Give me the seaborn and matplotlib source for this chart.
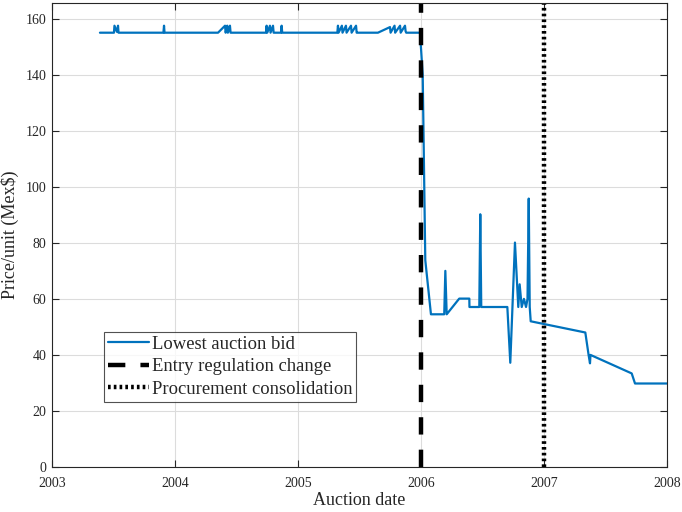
import matplotlib
matplotlib.use("Agg")
import matplotlib.pyplot as plt
import seaborn as sns
import pandas as pd

# Auction dates (decimal years) and lowest bids (Mex$)
dates = [
    2003.390, 2003.504, 2003.508, 2003.528, 2003.537, 2003.541,
    2003.906, 2003.911, 2003.915,
    2004.350, 2004.407, 2004.412, 2004.425, 2004.430, 2004.447, 2004.452,
    2004.740, 2004.745, 2004.750, 2004.772, 2004.777, 2004.797, 2004.802, 2004.862, 2004.867, 2004.872,
    2005.320, 2005.325, 2005.330, 2005.357, 2005.362, 2005.390, 2005.395, 2005.431, 2005.436, 2005.472, 2005.477, 2005.482,
    2005.650, 2005.748, 2005.753, 2005.785, 2005.790, 2005.830, 2005.835, 2005.870, 2005.875, 2005.880, 2005.992,
    2006.014, 2006.035, 2006.081, 2006.189, 2006.198, 2006.209, 2006.311, 2006.393, 2006.394,
    2006.474, 2006.482, 2006.490, 2006.702, 2006.726, 2006.764, 2006.791, 2006.802, 2006.819,
    2006.837, 2006.854, 2006.866, 2006.876, 2006.884, 2006.892,
    2007.336, 2007.363, 2007.374, 2007.378, 2007.713, 2007.740, 2008.000,
]
prices = [
    155.0, 155.0, 157.5, 155.3, 157.5, 155.0,
    155.0, 157.5, 155.0,
    155.0, 157.5, 155.0, 157.5, 155.0, 157.5, 155.0,
    155.0, 157.5, 155.0, 157.5, 155.0, 157.5, 155.0, 155.0, 157.5, 155.0,
    155.0, 157.5, 155.0, 157.5, 155.0, 157.5, 155.0, 157.5, 155.0, 157.5, 155.0, 155.0,
    155.0, 157.0, 155.0, 157.5, 155.0, 157.5, 155.0, 157.5, 155.5, 155.0, 155.0,
    140.0, 73.8, 54.5, 54.5, 70.0, 54.5, 60.1, 60.1, 57.1,
    57.1, 90.2, 57.1, 57.1, 37.2, 80.1, 57.1, 65.2, 57.1,
    60.0, 57.1, 60.0, 95.8, 57.1, 52.0,
    48.0, 39.9, 37.0, 40.0, 33.4, 29.8, 29.8,
]
# Event dates
entry_change = 2006.0
consolidation = 2007.0

x_ticks = [2003, 2004, 2005, 2006, 2007, 2008]
y_ticks = [0, 20, 40, 60, 80, 100, 120, 140, 160]

sns.set_theme(style="whitegrid")
plt.rcParams['font.family'] = ['Liberation Serif', 'DejaVu Serif']

df = pd.DataFrame({"date": dates, "price": prices})

fig = plt.figure(figsize=(6.82, 5.12), dpi=100)
ax = fig.add_axes([0.0762, 0.0879, 0.9018, 0.9057])

sns.lineplot(data=df, x="date", y="price", ax=ax, color="#0072BD", linewidth=1.6,
             label="Lowest auction bid", estimator=None, sort=False)
ax.axvline(entry_change, color="black", linewidth=3.2, linestyle=(0, (3.9, 3.4)),
           label="Entry regulation change")
ax.axvline(consolidation, color="black", linewidth=3.2, linestyle=(0, (0.6, 0.7)),
           label="Procurement consolidation")

ax.set_xlim(2003, 2008)
ax.set_ylim(0, 165.5)
ax.set_xticks(x_ticks)
ax.set_xticklabels([str(t) for t in x_ticks])
ax.set_yticks(y_ticks)
ax.set_yticklabels([str(t) for t in y_ticks])
ax.set_xlabel("Auction date", fontsize=13, color="#262626", labelpad=2)
ax.set_ylabel("Price/unit (Mex\\$)", fontsize=13, color="#262626", labelpad=5)

ax.grid(True, color="#dcdcdc", linewidth=0.8)
for s in ax.spines.values():
    s.set_color("#262626")
    s.set_linewidth(0.8)
ax.set_facecolor("white")
ax.tick_params(direction="in", length=5, width=0.8, color="#262626",
               top=True, right=True, bottom=True, left=True,
               labelsize=10, labelcolor="#262626")
ax.tick_params(axis="x", pad=7)
ax.tick_params(axis="y", pad=4)

leg = ax.legend(loc="lower left", bbox_to_anchor=(0.085, 0.14), fontsize=13.4,
                frameon=True, fancybox=False, borderpad=0.22, handlelength=2.2,
                handletextpad=0.13, labelspacing=0.3, borderaxespad=0)
leg.get_frame().set_edgecolor("#262626")
leg.get_frame().set_linewidth(0.8)

fig.savefig("out.png", dpi=100, facecolor="white")
